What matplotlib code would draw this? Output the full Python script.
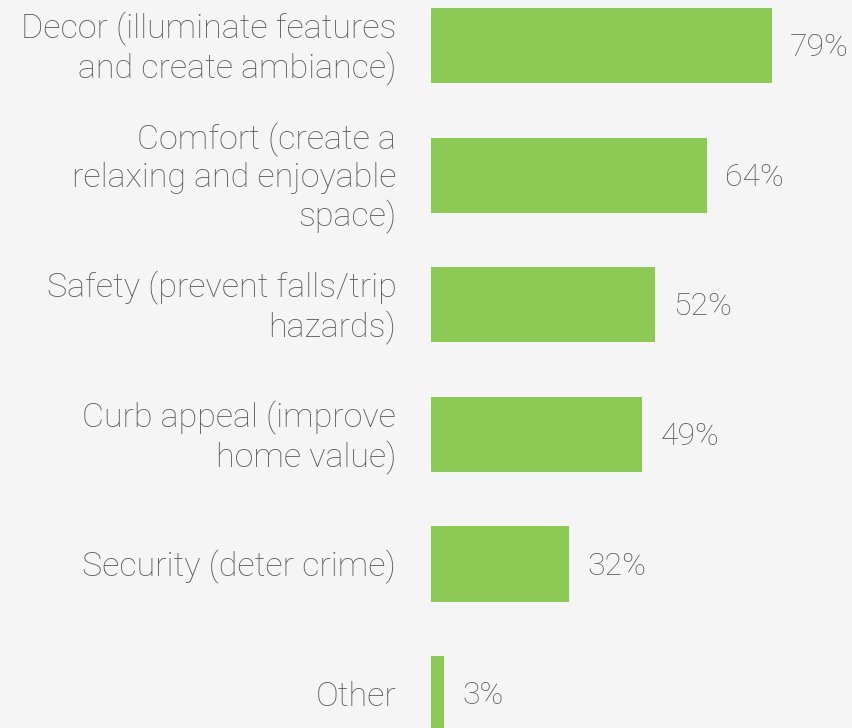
import matplotlib
matplotlib.use('Agg')
import matplotlib.pyplot as plt

# Reasons for outdoor lighting (share of respondents)
categories = [
    'Decor (illuminate features\nand create ambiance)',
    'Comfort (create a\nrelaxing and enjoyable\nspace)',
    'Safety (prevent falls/trip\nhazards)',
    'Curb appeal (improve\nhome value)',
    'Security (deter crime)',
    'Other',
]
values = [79, 64, 52, 49, 32, 3]
value_labels = ['79%', '64%', '52%', '49%', '32%', '3%']

BG = '#f5f5f5'
GREEN = '#8cc955'
TEXT = '#5c5c5c'

family = ['Roboto', 'DejaVu Sans']
weight = 'light'

fig = plt.figure(figsize=(8.52, 7.28), dpi=100, facecolor=BG)
ax = fig.add_axes([431 / 852, 0, 421 / 852, 1])
ax.set_facecolor(BG)

pos = list(range(len(values)))
ax.barh(pos, values, height=0.58, color=GREEN)

ax.set_xlim(0, 421 / 4.316)
ax.set_ylim(5.266, -0.351)
ax.axis('off')

# category labels, right-aligned left of the bars
for y, lab in zip(pos, categories):
    ax.annotate(lab, xy=(0, y), xytext=(-25, -2.5), textcoords='offset points',
                ha='right', va='center', fontsize=24.5, color=TEXT,
                family=family, fontweight=weight, linespacing=1.22,
                annotation_clip=False)

# value labels just past the bar end
for y, v, lab in zip(pos, values, value_labels):
    ax.annotate(lab, xy=(v, y), xytext=(13, -1.5), textcoords='offset points',
                ha='left', va='center', fontsize=23, color=TEXT,
                family=family, fontweight=weight, annotation_clip=False)

fig.savefig('out.png', dpi=100, facecolor=BG)
